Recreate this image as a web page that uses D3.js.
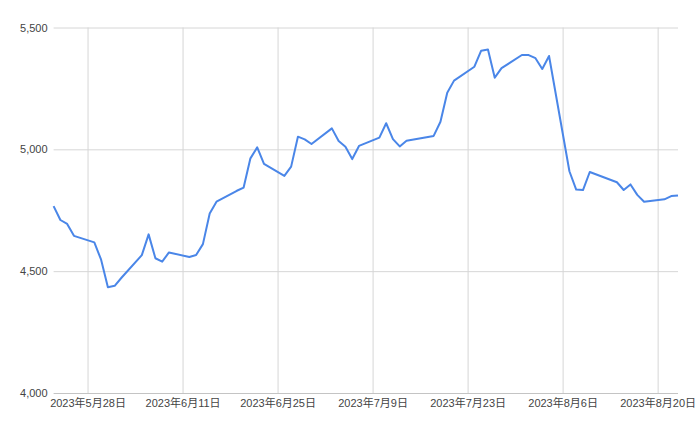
<!DOCTYPE html>
<html>
<head>
<meta charset="utf-8">
<script src="https://cdn.jsdelivr.net/npm/d3@7"></script>
<style>
  body { margin: 0; background: #fff; }
  svg text { font-family: "Liberation Sans", Arial, "Noto Sans CJK JP", sans-serif; }
</style>
</head>
<body>
<svg id="chart" width="700" height="433"></svg>
<script>
// trading days (2023) and closing values
const dates = [
    "2023-05-23", "2023-05-24", "2023-05-25", "2023-05-26",
    "2023-05-29", "2023-05-30", "2023-05-31", "2023-06-01", "2023-06-02",
    "2023-06-05", "2023-06-06", "2023-06-07", "2023-06-08", "2023-06-09",
    "2023-06-12", "2023-06-13", "2023-06-14", "2023-06-15", "2023-06-16",
    "2023-06-19", "2023-06-20", "2023-06-21", "2023-06-22", "2023-06-23",
    "2023-06-26", "2023-06-27", "2023-06-28", "2023-06-29", "2023-06-30",
    "2023-07-03", "2023-07-04", "2023-07-05", "2023-07-06", "2023-07-07",
    "2023-07-10", "2023-07-11", "2023-07-12", "2023-07-13", "2023-07-14",
    "2023-07-18", "2023-07-19", "2023-07-20", "2023-07-21",
    "2023-07-24", "2023-07-25", "2023-07-26", "2023-07-27", "2023-07-28",
    "2023-07-31", "2023-08-01", "2023-08-02", "2023-08-03", "2023-08-04",
    "2023-08-07", "2023-08-08", "2023-08-09", "2023-08-10",
    "2023-08-14", "2023-08-15", "2023-08-16", "2023-08-17", "2023-08-18",
    "2023-08-21", "2023-08-22", "2023-08-23"
];
const values = [
    4767, 4710, 4694, 4645,
    4618, 4547, 4434, 4440, 4473,
    4566, 4651, 4553, 4539, 4577,
    4558, 4566, 4611, 4737, 4785,
    4830, 4843, 4963, 5008, 4940,
    4891, 4929, 5052, 5041, 5022,
    5086, 5034, 5011, 4960, 5014,
    5048, 5107, 5042, 5012, 5035,
    5055, 5113, 5232, 5282,
    5339, 5405, 5410, 5294, 5333,
    5387, 5387, 5374, 5330, 5383,
    4910, 4835, 4833, 4907,
    4865, 4833, 4856, 4813, 4785,
    4795, 4808, 4811
];
const yTicks = [4000, 4500, 5000, 5500];
const xTicks = ["2023-05-28", "2023-06-11", "2023-06-25", "2023-07-09", "2023-07-23", "2023-08-06", "2023-08-20"];

const parse = d3.timeParse("%Y-%m-%d");
const data = dates.map(function(d, i) { return { date: parse(d), value: values[i] }; });

const svg = d3.select("#chart");
const margin = { left: 53.6, right: 22, top: 27.5, bottom: 40 };
const width = 700, height = 433;

const x = d3.scaleTime()
    .domain(d3.extent(data, function(d) { return d.date; }))
    .range([margin.left, width - margin.right]);

const y = d3.scaleLinear()
    .domain([4000, 5500])
    .range([height - margin.bottom, margin.top]);

const fmt = d3.format(",");
const fmtDate = function(d) {
    return d.getFullYear() + "年" + (d.getMonth() + 1) + "月" + d.getDate() + "日";
};

// vertical grid + x labels
const xg = svg.append("g")
    .attr("transform", "translate(0," + (height - margin.bottom) + ")")
    .call(d3.axisBottom(x)
        .tickValues(xTicks.map(parse))
        .tickSize(-(height - margin.bottom - margin.top))
        .tickPadding(6)
        .tickFormat(fmtDate));
xg.select(".domain").remove();
xg.selectAll("line").attr("stroke", "#d6d6d6");
xg.selectAll("text").attr("fill", "#444").style("font-size", "11px");

// horizontal grid + y labels
const yg = svg.append("g")
    .attr("transform", "translate(" + margin.left + ",0)")
    .call(d3.axisLeft(y)
        .tickValues(yTicks)
        .tickSize(-(width - margin.right - margin.left))
        .tickPadding(6)
        .tickFormat(fmt));
yg.select(".domain").remove();
yg.selectAll("line").attr("stroke", function(d) { return d === 4000 ? "#c4c4c4" : "#d6d6d6"; });
yg.selectAll("text").attr("fill", "#444").style("font-size", "11px");

const line = d3.line()
    .x(function(d) { return x(d.date); })
    .y(function(d) { return y(d.value); });

svg.append("path")
    .datum(data)
    .attr("fill", "none")
    .attr("stroke", "#4a86e8")
    .attr("stroke-width", 2)
    .attr("stroke-linejoin", "round")
    .attr("d", line);
</script>
</body>
</html>
